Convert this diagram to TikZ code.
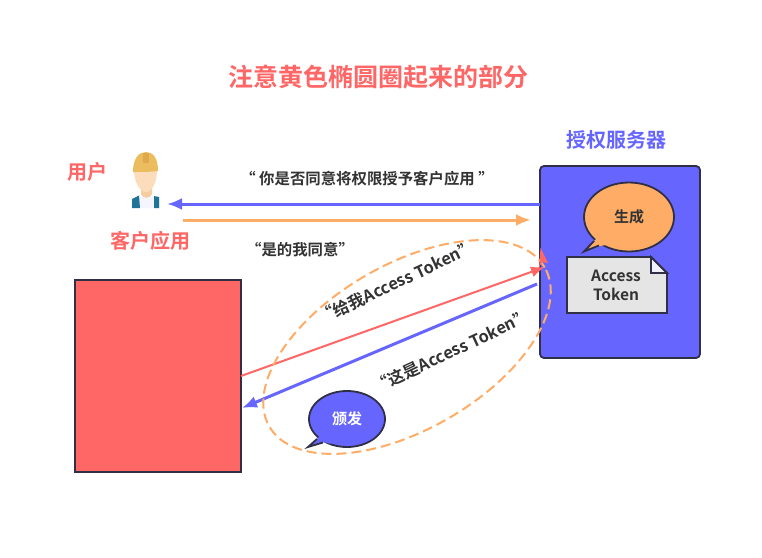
\documentclass[tikz,border=0pt]{standalone}
\usepackage{fontspec}
\setmainfont{Noto Sans CJK SC}[BoldFont={Noto Sans CJK SC Bold}]
\usetikzlibrary{shapes.geometric,arrows.meta}
\definecolor{cred}{HTML}{FF6666}
\definecolor{cblue}{HTML}{6666FF}
\definecolor{corange}{HTML}{FFAD66}
\definecolor{cdark}{HTML}{2F2F45}
\definecolor{ctext}{HTML}{333333}
\definecolor{hat}{HTML}{EBBD5E}
\definecolor{hatdark}{HTML}{DDA94A}
\definecolor{skin}{HTML}{FBDDBB}
\definecolor{neck}{HTML}{F5CDA2}
\definecolor{vest}{HTML}{1F7396}
\tikzset{
  headline/.style={font=\bfseries\fontsize{25}{29}\selectfont,text=cred,inner sep=0pt},
  rolelabel/.style={font=\bfseries\fontsize{20}{24}\selectfont,inner sep=0pt},
  saying/.style={font=\bfseries\fontsize{15.4}{18}\selectfont,text=ctext,inner sep=0pt},
  tilted/.style={font=\bfseries\fontsize{16.5}{18}\selectfont,text=ctext,inner sep=0pt,rotate=25},
  panel/.style={draw=cdark,line width=1.8pt,inner sep=0pt},
  bubble/.style={ellipse,draw=cdark,line width=1.8pt,inner sep=0pt,font=\bfseries\fontsize{15}{18}\selectfont},
  flow/.style={-{Latex[length=15pt,width=12pt]},line width=3pt},
}
\begin{document}
\begin{tikzpicture}[x=1pt,y=-1pt]
\useasboundingbox (0,0) rectangle (762,557);
\fill[white] (0,0) rectangle (762,557);
% title
\node[headline] (title) at (378,77) {注意黄色椭圆圈起来的部分};
% server
\node[panel,rounded corners=4pt,fill=cblue,minimum width=160pt,minimum height=192pt] (server) at (620,262) {};
\node[rolelabel,text=cblue] (serverlabel) at (616,140) {授权服务器};
% client
\node[panel,fill=cred,minimum width=166pt,minimum height=192pt] (client) at (158,376) {};
\node[rolelabel,text=cred] (userlabel) at (87,172) {用户};
\node[rolelabel,text=cred] (applabel) at (150,241) {客户应用};
% person
\fill[white!96!blue] (131,208) -- (132,199) .. controls (136,195) and (156,195) .. (160,199) -- (160,208) -- cycle;
\fill[vest] (132,208) -- (132,199) -- (139,195.5) -- (140,208) -- cycle;
\fill[vest] (154,208) -- (154,196) -- (159,197) -- (159,208) -- cycle;
\fill[neck] (141,185) -- (152,185) -- (152,194) .. controls (150,199) and (143,199) .. (141,194) -- cycle;
\fill[skin] (134,170) -- (157,170) .. controls (157,182) and (152,192) .. (146,192) .. controls (140,192) and (134,182) .. (134,170) -- cycle;
\fill[hat] (133,172) .. controls (133,158) and (139,152) .. (146,152) .. controls (153,152) and (158,158) .. (158,171) .. controls (150,172) and (141,172) .. (133,172) -- cycle;
\fill[hatdark] (143,153) -- (149,153) -- (149,163) -- (143,163) -- cycle;
\node[inner sep=0pt,minimum size=1pt] (user) at (146,180) {};
% top connectors
\coordinate (serverA) at (540,204);
\coordinate (userA) at (167,204);
\coordinate (appB) at (183,220);
\coordinate (serverB) at (531,220);
\draw[flow,draw=cblue,fill=cblue] (serverA) -- (userA);
\draw[flow,draw=corange,fill=corange] (appB) -- (serverB);
\node[saying] (ask) at (367,179) {“ 你是否同意将权限授予客户应用 ”};
\node[saying] (yes) at (300,250) {“是的我同意”};
% lower connectors
\coordinate (clientA) at (241,376);
\coordinate (serverC) at (545,267);
\coordinate (serverD) at (537,284);
\coordinate (clientB) at (242,408);
\draw[draw=cred,fill=cred,line width=2pt,-{Latex[length=14pt,width=11pt]}] (clientA) -- (serverC);
\draw[flow,draw=cblue,fill=cblue] (serverD) -- (clientB);
\node[tilted] (give) at (397,282) {“给我Access Token”};
\node[tilted] (here) at (452,351) {“这是Access Token”};
% ellipse
\node[ellipse,draw=corange,line width=2pt,dash pattern=on 10pt off 5pt,minimum width=318pt,minimum height=165pt,rotate=30,inner sep=0pt] (ring) at (407,347) {};
\fill[cred] (540.5,248) -- (548,263) -- (542,262) -- (539,268) -- cycle;
% bubble: 生成
\node[bubble,fill=corange,text=ctext,minimum width=90pt,minimum height=69pt] (make) at (629,217) {生成};
\fill[corange] (594,241) -- (584,251.5) -- (600,246) -- (606,245) -- (597,238) -- cycle;
\draw[cdark,line width=1.8pt] (594,241) -- (584,251.5) -- (599,245.5);
% document
\draw[panel,fill=black!10] (567,257) -- (651,257) -- (667,273) -- (667,313) -- (567,313) -- cycle;
\draw[panel,fill=white!90!cblue] (651,257) -- (651,273) -- (667,273) -- cycle;
\node[font=\bfseries\fontsize{15.5}{19}\selectfont,text=ctext,align=center,inner sep=0pt] (token) at (616,285) {Access\\Token};
% bubble: 颁发
\node[bubble,fill=cblue,text=white,minimum width=76pt,minimum height=56pt] (issue) at (347,419) {颁发};
\fill[cblue] (318,438) -- (308,447) -- (323,442) -- (331,444) -- (322,433) -- cycle;
\draw[cdark,line width=1.8pt] (317,439) -- (308,447) -- (323,442.5);
\end{tikzpicture}
\end{document}
